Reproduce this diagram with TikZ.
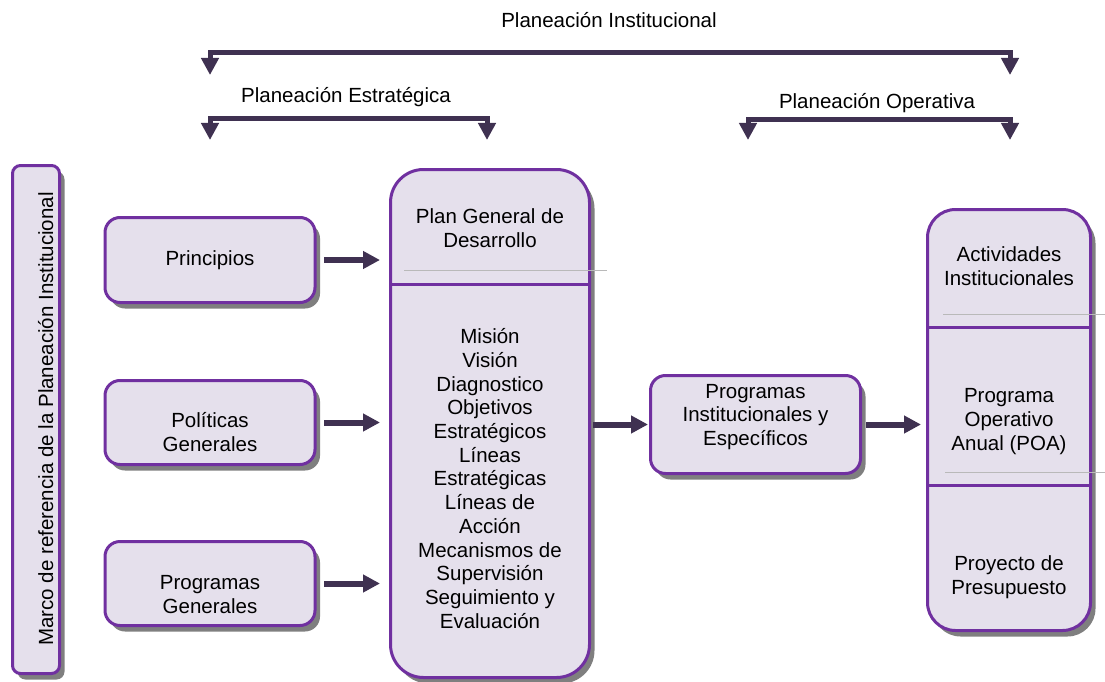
\documentclass[tikz,border=0pt]{standalone}
\usepackage{fontspec}
\setmainfont{Liberation Sans}
\usetikzlibrary{arrows.meta,shadows}
\definecolor{boxfill}{HTML}{E5E0EC}
\definecolor{boxline}{HTML}{7030A0}
\definecolor{arrowcol}{HTML}{3F3151}
\definecolor{shadowcol}{HTML}{7F7F7F}
\begin{document}
\begin{tikzpicture}[x=1pt,y=1pt,
                    txt/.style={font=\fontsize{20.5pt}{23.7pt}\selectfont,align=center,inner sep=0pt},
                    box/.style={
                        draw=boxline,
                        fill=boxfill,
                        line width=3pt,
                        rounded corners=15pt,
                        inner sep=0pt,
                        drop shadow={shadow xshift=5pt,shadow yshift=-6pt,fill=shadowcol,opacity=1},
                    },
                    flow/.style={draw=arrowcol,line width=6pt,-{Triangle[length=17pt,width=17pt]}},
                    bracket/.style={draw=arrowcol,line width=5pt,
                        {Triangle[length=17pt,width=17pt]}-{Triangle[length=17pt,width=17pt]}},
                    partline/.style={draw=boxline,line width=3pt},
                    sepline/.style={draw=gray!55,line width=1pt}]
    \useasboundingbox (0,0) rectangle (1105,-682);

    % boxes
    \node[box,rounded corners=8pt,minimum width=47pt,minimum height=508pt] (marco) at (36,-419.5) {};
    \node[box,minimum width=210pt,minimum height=85pt] (princ) at (210,-260) {};
    \node[box,minimum width=210pt,minimum height=84pt] (polit) at (210,-422.5) {};
    \node[box,minimum width=210pt,minimum height=84pt] (progGen) at (210,-583.5) {};
    \node[box,rounded corners=33pt,minimum width=199pt,minimum height=508pt] (plan) at (490,-423.5) {};
    \node[box,minimum width=210pt,minimum height=98pt] (progInst) at (755.5,-424.5) {};
    \node[box,rounded corners=28pt,minimum width=163pt,minimum height=421pt] (poa) at (1009,-420) {};

    % divisions
    \coordinate (planDiv) at (490,-284);
    \coordinate (poaDivA) at (1009,-327);
    \coordinate (poaDivB) at (1009,-485);
    \draw[partline] (planDiv -| plan.west) -- (planDiv -| plan.east);
    \draw[partline] (poaDivA -| poa.west) -- (poaDivA -| poa.east);
    \draw[partline] (poaDivB -| poa.west) -- (poaDivB -| poa.east);
    \draw[sepline] (404,-270) -- (607,-270);
    \draw[sepline] (943,-314) -- (1105,-314);
    \draw[sepline] (945,-472) -- (1105,-472);

    % texts
    \node[txt,rotate=90,anchor=base] (marcoTxt) at (53,-419) {Marco de referencia de la Planeación Institucional};
    \node[txt] (princTxt) at (210,-260) {Principios};
    \node[txt] (politTxt) at (210,-432) {Políticas\\Generales};
    \node[txt] (progGenTxt) at (210,-594.5) {Programas\\Generales};
    \node[txt] (planTop) at (490,-228) {Plan General de\\Desarrollo};
    \node[txt] (planBody) at (490,-478.5) {Misión\\Visión\\Diagnostico\\Objetivos\\Estratégicos\\Líneas\\Estratégicas\\Líneas de\\Acción\\Mecanismos de\\Supervisión\\Seguimiento y\\Evaluación};
    \node[txt] (progInstTxt) at (755.5,-417) {Programas\\Institucionales y\\Específicos};
    \node[txt] (actTxt) at (1009,-266) {Actividades\\Institucionales};
    \node[txt] (poaTxt) at (1009,-421.5) {Programa\\Operativo\\Anual (POA)};
    \node[txt] (presTxt) at (1009,-577) {Proyecto de\\Presupuesto};

    % headers
    \node[txt] (instTxt) at (609,-20) {Planeación Institucional};
    \node[txt] (estrTxt) at (346,-97) {Planeación Estratégica};
    \node[txt] (operTxt) at (877,-103) {Planeación Operativa};

    % brackets
    \coordinate (instL) at (210,-75);
    \coordinate (instR) at (1010,-75);
    \coordinate (estrL) at (210,-140);
    \coordinate (estrR) at (487,-140);
    \coordinate (operL) at (748,-140);
    \coordinate (operR) at (1010,-140);
    \draw[bracket] (instL) -- ++(0,22) -| (instR);
    \draw[bracket] (estrL) -- ++(0,21) -| (estrR);
    \draw[bracket] (operL) -- ++(0,20) -| (operR);

    % arrows
    \draw[flow,shorten <=7.5pt,shorten >=9pt] (princ.east) -- (princ.east -| plan.west);
    \draw[flow,shorten <=7.5pt,shorten >=9pt] (polit.east) -- (polit.east -| plan.west);
    \draw[flow,shorten <=7.5pt,shorten >=9pt] (progGen.east) -- (progGen.east -| plan.west);
    \draw[flow,shorten <=2pt,shorten >=1pt] (progInst.west -| plan.east) -- (progInst.west);
    \draw[flow,shorten <=4pt,shorten >=5pt] (progInst.east) -- (progInst.east -| poa.west);
\end{tikzpicture}
\end{document}
